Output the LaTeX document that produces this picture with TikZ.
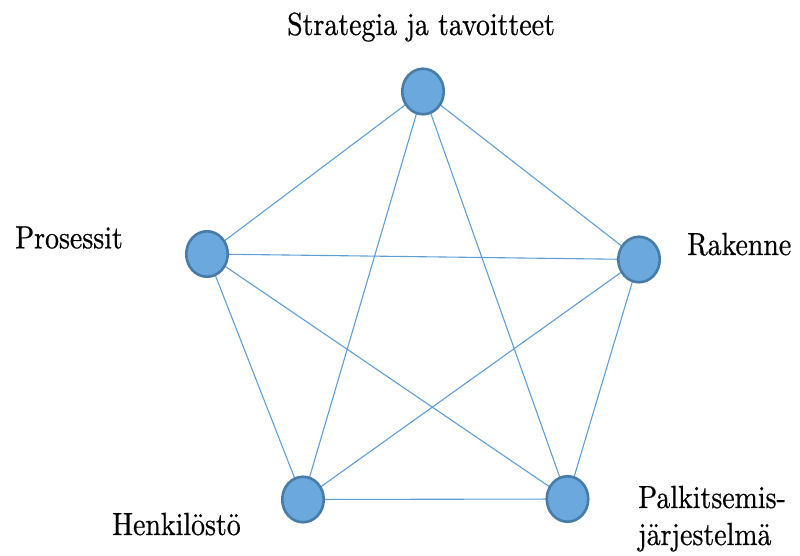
\documentclass[tikz,border=0pt]{standalone}
\usepackage{fontspec}
\newfontfamily\lblfont{lmroman10-regular.otf}[FakeBold=0.6,FakeStretch=0.87]
\usetikzlibrary{shapes.geometric}
\definecolor{dotfill}{RGB}{107,168,221}
\definecolor{dotedge}{RGB}{72,124,168}
\definecolor{linkblue}{RGB}{96,158,214}
\begin{document}
\begin{tikzpicture}[x=1pt,y=-1pt,
  dot/.style={ellipse,draw=dotedge,fill=dotfill,line width=2.6pt,
    minimum width=41.5pt,minimum height=45.5pt,inner sep=0pt},
  link/.style={draw=linkblue,line width=1.1pt},
  lbl/.style={anchor=base west,inner sep=0pt,font=\lblfont\fontsize{32}{37}\selectfont}]
\useasboundingbox (0,0) rectangle (800,556);
% the five factors
\coordinate (ct) at (423,91.5);
\coordinate (cl) at (207,254);
\coordinate (cr) at (639,259.5);
\coordinate (cbl) at (303,499.5);
\coordinate (cbr) at (567.5,499);
% every pair of factors is connected
\draw[link] (ct) -- (cl) (ct) -- (cr) (ct) -- (cbl) (ct) -- (cbr)
  (cl) -- (cr) (cl) -- (cbl) (cl) -- (cbr)
  (cr) -- (cbl) (cr) -- (cbr) (cbl) -- (cbr);
\node[dot] (t) at (ct) {};
\node[dot] (l) at (cl) {};
\node[dot] (r) at (cr) {};
\node[dot] (bl) at (cbl) {};
\node[dot] (br) at (cbr) {};
% labels
\node[lbl] (lt) at (287,35) {Strategia ja tavoitteet};
\node[lbl] (ll) at (15,248.3) {Prosessit};
\node[lbl] (lr) at (687,255) {Rakenne};
\node[lbl] (lbl1) at (112,535) {Henkilöstö};
\node[lbl] (lbr1) at (638,508) {Palkitsemis-};
\node[lbl] (lbr2) at (638,545) {järjestelmä};
\end{tikzpicture}
\end{document}
